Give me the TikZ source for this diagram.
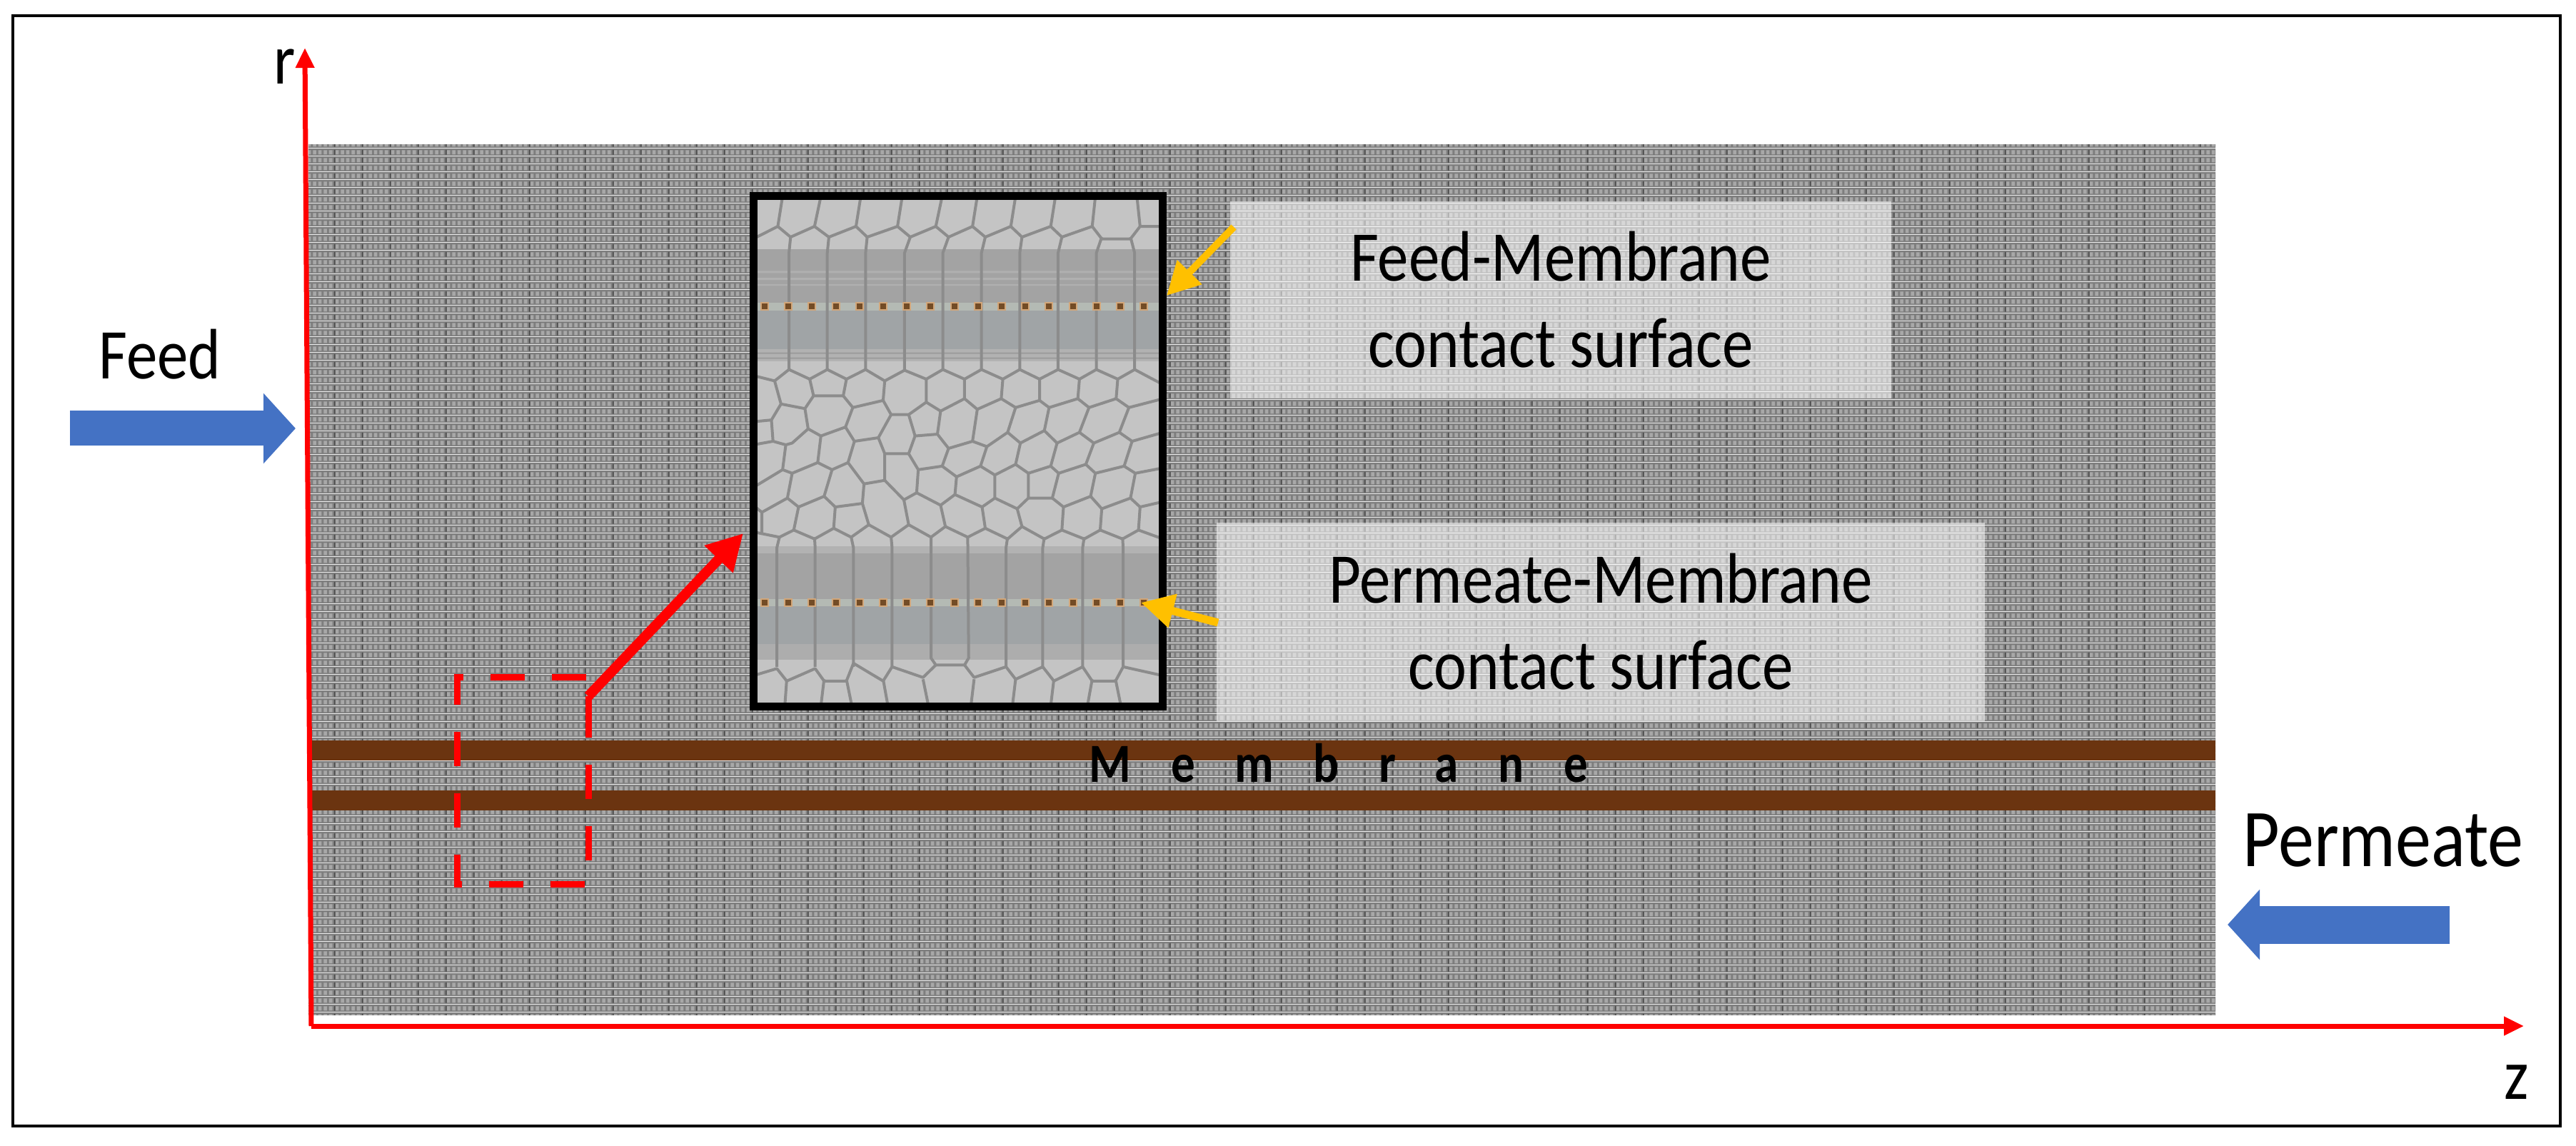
\documentclass[tikz,border=0pt]{standalone}
\usepackage{fontspec}
\usetikzlibrary{arrows.meta,patterns}
\setmainfont[FakeStretch=0.87]{Carlito}
\newfontfamily\spacedfont[FakeStretch=0.87,LetterSpace=72]{Carlito}
\definecolor{meshbase}{HTML}{7E7E7E}
\definecolor{meshlight}{HTML}{A8A8A8}
\definecolor{meshdark}{HTML}{4C4C4C}
\definecolor{flowblue}{HTML}{4472C4}
\definecolor{pointeryellow}{HTML}{FFC000}
\definecolor{membranebrown}{HTML}{6B3410}
\definecolor{cellfill}{HTML}{C4C4C4}
\definecolor{celledgegray}{HTML}{8C8C8C}
\definecolor{bandcool}{HTML}{A0A4A6}
\definecolor{bandline}{HTML}{B4BAB4}
\pgfdeclarepatterninherentlycolored{meshdots}{\pgfpointorigin}{\pgfqpoint{11.1pt}{3.13pt}}{\pgfqpoint{11.1pt}{3.13pt}}{
\pgfsetfillcolor{meshbase}
\pgfpathrectangle{\pgfpointorigin}{\pgfqpoint{11.1pt}{3.13pt}}\pgfusepath{fill}
\pgfsetfillcolor{meshlight}
\foreach \x in {0.5,2.7,4.9,7.1,9.3} {\pgfpathrectangle{\pgfqpoint{\x pt}{0.5pt}}{\pgfqpoint{1.35pt}{1.9pt}}\pgfusepath{fill}}
\pgfsetfillcolor{meshdark}
\pgfpathrectangle{\pgfqpoint{0pt}{0.4pt}}{\pgfqpoint{0.45pt}{2.1pt}}\pgfusepath{fill}
}
\tikzset{
biglabel/.style={font=\fontsize{28.45}{34.4}\selectfont,anchor=base},
graybox/.style={fill=white,fill opacity=.55,text opacity=1,font=\fontsize{28.45}{34.4}\selectfont,align=center},
axisline/.style={red,line width=.07cm,-{Triangle[length=.28cm,width=.25cm]}},
flowarrow/.style={flowblue,-{Triangle[length=.45cm,width=.96cm]}},
pointer/.style={pointeryellow,line width=.1cm,-{Triangle[length=.46cm,width=.46cm]}},
celledge/.style={celledgegray,line width=.04cm,line join=round}
}
\begin{document}
\begin{tikzpicture}
\useasboundingbox (0,0) rectangle (36.08,16.04);
\draw[line width=.04cm] (.175,.27) rectangle (35.855,15.82);
\fill[pattern=meshdots] (4.32,1.83) rectangle (31.03,14.01);
\fill[membranebrown] (4.32,5.39) rectangle (31.03,5.67);
\fill[membranebrown] (4.32,4.69) rectangle (31.03,4.97);
\coordinate (origin) at (4.36,1.67);
\coordinate (raxis) at (4.27,15.37);
\coordinate (zaxis) at (35.35,1.67);
\draw[axisline] (origin)--(raxis);
\draw[axisline] (origin)--(zaxis);
\node[biglabel] (rlabel) at (3.99,14.86) {r};
\node[biglabel] (zlabel) at (35.25,.65) {z};
\node[biglabel] (feedlabel) at (2.24,10.73) {Feed};
\node[biglabel,font=\fontsize{32.7}{34}\selectfont] (permeatelabel) at (33.38,3.91) {Permeate};
\coordinate (feedtail) at (.98,10.04);
\coordinate (feedtip) at (4.14,10.04);
\draw[flowarrow,line width=.49cm] (feedtail)--(feedtip);
\coordinate (permeatetail) at (34.31,3.09);
\coordinate (permeatetip) at (31.20,3.09);
\draw[flowarrow,line width=.53cm] (permeatetail)--(permeatetip);
\node[graybox,minimum width=9.26cm,minimum height=2.76cm,inner sep=0pt] (feedbox) at (21.86,11.84) {Feed-Membrane\\contact surface};
\node[graybox,minimum width=10.76cm,minimum height=2.78cm,inner sep=0pt] (permeatebox) at (22.42,7.33) {Permeate-Membrane\\contact surface};
\begin{scope}[shift={(10,13.64)},x=.004464cm,y=-.004975cm]
\fill[cellfill] (123,70) rectangle (1407,1505);
\fill[gray!72] (123,220) rectangle (1407,370);
\fill[gray!62] (123,280) rectangle (1407,286) (123,300) rectangle (1407,306) (123,318) rectangle (1407,322);
\fill[bandline] (123,370) rectangle (1407,392);
\fill[bandcool] (123,392) rectangle (1407,500);
\fill[gray!60] (123,500) rectangle (1407,535);
\fill[gray!78] (123,510) rectangle (1407,514) (123,524) rectangle (1407,528);
\fill[gray!60] (123,1055) rectangle (1407,1075);
\fill[gray!72] (123,1075) rectangle (1407,1205);
\fill[bandline] (123,1205) rectangle (1407,1225);
\fill[bandcool] (123,1225) rectangle (1407,1330);
\fill[gray!64] (123,1330) rectangle (1407,1375);
\clip (123,70) rectangle (1407,1505);
\draw[celledge] (123,190)--(200,155)--(240,185)--(315,155)--(360,185)--(445,155)--(480,185)--(575,155)--(615,185)--(695,155)--(735,185)--(810,155)--(850,185)--(930,155)--(965,185)--(1055,155)--(1090,185)--(1185,155)--(1215,190)--(1305,190)--(1335,155)--(1407,155);
\foreach \a/\b in {200/215,315/335,445/460,575/590,695/715,810/825,930/945,1055/1070,1185/1195,1335/1325} \draw[celledge] (\a,155)--(\b,70);
\foreach \a/\b in {240/235,360/355,480/475,615/597,735/717,850/838,965/958,1090/1078,1215/1198,1305/1318} \draw[celledge] (\a,185)--(\b,230)--(\b,558);
\draw[celledge] (123,575)--(190,590)--(235,558)--(300,585)--(355,558)--(415,585)--(475,558)--(535,590)--(597,560)--(665,585)--(717,558)--(785,585)--(838,558)--(905,585)--(958,558)--(1020,585)--(1078,558)--(1145,585)--(1198,558)--(1265,585)--(1318,558)--(1385,590)--(1407,600);
\draw[celledge] (190,590)--(210,655)--(285,668) (210,655)--(180,700)--(123,705) (180,700)--(185,760)--(123,770) (185,760)--(225,770);
\draw[celledge] (300,585)--(312,632)--(405,632)--(415,585) (312,632)--(285,668)--(295,725)--(335,745)--(412,720)--(435,665)--(405,632);
\draw[celledge] (435,665)--(530,645)--(535,590) (530,645)--(555,685)--(610,685)--(665,650)--(665,585);
\draw[celledge] (555,685)--(515,750)--(535,795)--(610,795)--(630,745)--(610,685);
\draw[celledge] (515,750)--(440,760)--(412,720) (440,760)--(420,820)--(370,840)--(325,820)--(335,745);
\draw[celledge] (295,725)--(245,765)--(225,770)--(215,840)--(123,890) (325,820)--(245,850)--(215,840);
\draw[celledge] (665,650)--(710,675)--(700,740)--(630,745) (710,675)--(785,640)--(785,585) (785,640)--(825,670)--(810,760)--(735,780)--(700,740);
\draw[celledge] (825,670)--(900,640)--(905,585) (900,640)--(945,665)--(920,735)--(855,775)--(810,760);
\draw[celledge] (945,665)--(1020,645)--(1020,585) (1020,645)--(1050,665)--(1035,730)--(960,765)--(920,735);
\draw[celledge] (1050,665)--(1140,640)--(1145,585) (1140,640)--(1175,665)--(1145,735)--(1075,765)--(1035,730);
\draw[celledge] (1175,665)--(1260,640)--(1265,585) (1260,640)--(1300,665)--(1270,735)--(1190,765)--(1145,735);
\draw[celledge] (1300,665)--(1407,640) (1270,735)--(1310,760)--(1407,735);
\draw[celledge] (610,795)--(640,840)--(715,830)--(735,780) (535,795)--(535,870)--(470,880)--(420,820) (640,840)--(635,905)--(595,925)--(535,870);
\draw[celledge] (715,830)--(760,860)--(835,830)--(855,775) (835,830)--(880,855)--(945,825)--(960,765);
\draw[celledge] (945,825)--(985,850)--(1055,830)--(1075,765) (1055,830)--(1080,850)--(1165,825)--(1190,765);
\draw[celledge] (1165,825)--(1195,850)--(1285,830)--(1310,760) (1285,830)--(1320,850)--(1407,835);
\draw[celledge] (760,860)--(755,910)--(710,940)--(635,905) (880,855)--(880,920)--(840,945)--(755,910);
\draw[celledge] (985,850)--(985,920)--(1060,920)--(1080,850) (880,920)--(950,950)--(985,920);
\draw[celledge] (1060,920)--(1095,945)--(1180,915)--(1195,850) (1180,915)--(1215,950)--(1305,920)--(1320,850) (1305,920)--(1335,945)--(1407,930);
\draw[celledge] (245,850)--(230,920)--(265,945)--(345,915)--(370,840) (345,915)--(380,945)--(465,935)--(470,880) (230,920)--(150,960)--(123,940);
\draw[celledge] (150,960)--(150,1020)--(205,1030)--(250,1010)--(265,945) (250,1010)--(315,1035)--(375,1005)--(380,945) (375,1005)--(430,1030)--(485,995)--(465,935);
\draw[celledge] (485,995)--(555,1030)--(610,995)--(595,925) (610,995)--(680,1030)--(725,1000)--(710,940) (725,1000)--(795,1030)--(850,1005)--(840,945);
\draw[celledge] (850,1005)--(920,1035)--(965,1000)--(950,950) (965,1000)--(1035,1035)--(1090,1010)--(1095,945) (1090,1010)--(1160,1035)--(1210,1010)--(1215,950);
\draw[celledge] (1210,1010)--(1280,1035)--(1330,1010)--(1335,945) (1330,1010)--(1407,1035) (150,1020)--(123,1015);
\foreach \a/\b in {205/197,315/317,430/437,555/558,920/915,1035/1030,1160/1155,1280/1282} \draw[celledge] (\a,1030)--(\b,1060)--(\b,1395);
\draw[celledge] (680,1030)--(680,1370)--(695,1390)--(785,1390)--(798,1370)--(795,1030);
\draw[celledge] (123,1420)--(197,1400)--(228,1435)--(317,1400)--(345,1435)--(415,1435)--(437,1385)--(530,1435)--(558,1395)--(655,1425)--(695,1390) (785,1390)--(815,1425)--(915,1395)--(945,1430)--(1030,1395)--(1065,1435)--(1155,1395)--(1185,1435)--(1258,1435)--(1282,1395)--(1407,1420);
\foreach \a/\b in {228/222,345/335,415/432,530/545,655/672,815/805,945/935,1065/1055,1185/1170,1258/1275} \draw[celledge] (\a,1430)--(\b,1505);
\end{scope}
\foreach \i in {0,...,16} {
\fill[brown!70!white] (10.65+.332*\i,11.69) rectangle +(.12,.12);
\fill[brown!60!black] (10.67+.332*\i,11.71) rectangle +(.08,.08);
\fill[brown!70!white] (10.65+.332*\i,7.54) rectangle +(.12,.12);
\fill[brown!60!black] (10.67+.332*\i,7.56) rectangle +(.08,.08);
}
\draw[line width=.11cm] (10.55,6.15) rectangle (16.28,13.29);
\coordinate (feedend) at (17.28,12.86);
\coordinate (feedsurface) at (16.34,11.90);
\draw[pointer] (feedend)--(feedsurface);
\coordinate (permeateend) at (17.06,7.32);
\coordinate (permeatesurface) at (15.98,7.60);
\draw[pointer,line width=.11cm] (permeateend)--(permeatesurface);
\draw[red,line width=.09cm,dash pattern=on .48cm off .38cm] (8.21,6.56)--(6.40,6.56)--(6.40,3.66)--(8.24,3.66)--(8.24,5.68);
\coordinate (zoomfoot) at (8.24,5.71);
\coordinate (zoomknee) at (8.24,6.29);
\coordinate (zoomtip) at (10.41,8.57);
\draw[red,line width=.09cm] (zoomfoot)--(zoomknee);
\draw[red,line width=.14cm,-{Triangle[length=.5cm,width=.52cm]}] (zoomknee)--(zoomtip);
\node[anchor=base,font=\spacedfont\bfseries\fontsize{22}{24}\selectfont] (membranelabel) at (18.75,5.09) {Membrane};
\end{tikzpicture}
\end{document}
